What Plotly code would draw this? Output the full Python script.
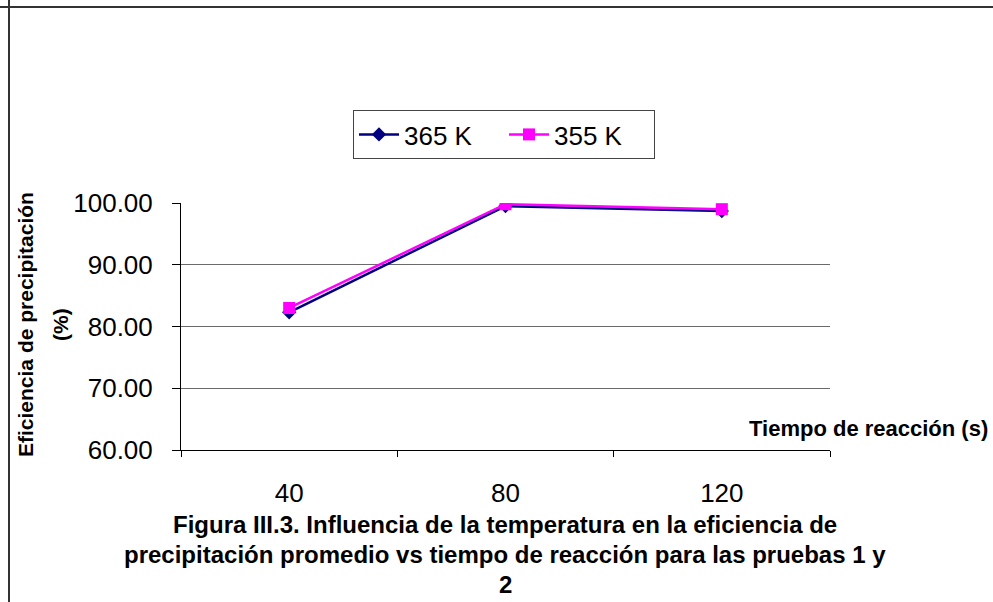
import plotly.graph_objects as go

# Reaction time categories (s) and mean precipitation efficiency (%)
tiempos = ["40", "80", "120"]
eficiencia_365K = [82.3, 99.5, 98.7]
eficiencia_355K = [83.0, 99.8, 99.0]
y_ticks = [60, 70, 80, 90, 100]

W, H = 993, 602
L, R, T, B = 181, 830, 203, 450  # plot area in pixels


def px(x):
    return (x - L) / (R - L)


def py(y):
    return (B - y) / (B - T)


fig = go.Figure()
fig.add_trace(go.Scatter(
    x=tiempos, y=eficiencia_365K, name="365 K", mode="lines+markers",
    line=dict(color="#000080", width=2.5),
    marker=dict(symbol="diamond", size=11, color="#000080"),
))
fig.add_trace(go.Scatter(
    x=tiempos, y=eficiencia_355K, name="355 K", mode="lines+markers",
    line=dict(color="#FF00FF", width=2.5),
    marker=dict(symbol="square", size=12, color="#FF00FF"),
))

font = "Liberation Sans, Arial, sans-serif"

fig.update_layout(
    width=W, height=H,
    margin=dict(l=L, r=W - R, t=T, b=H - B, pad=0),
    paper_bgcolor="white", plot_bgcolor="white",
    font=dict(family=font, color="black", size=26),
    showlegend=True,
    legend=dict(
        orientation="h", x=px(353), y=py(110), xanchor="left", yanchor="top",
        bordercolor="#444", borderwidth=1, bgcolor="white",
        font=dict(size=26, family=font), itemwidth=40,
        entrywidth=95, entrywidthmode="pixels",
        tracegroupgap=0,
    ),
    xaxis=dict(
        type="category", range=[-0.5, 2.5], tickson="boundaries",
        ticks="outside", ticklen=6, tickcolor="black",
        showline=True, linecolor="black", linewidth=1,
        showgrid=False, zeroline=False,
        tickfont=dict(size=26, family=font), ticklabelstandoff=20,
    ),
    yaxis=dict(
        range=[60, 100], tickvals=y_ticks, tickformat=".2f",
        ticks="outside", ticklen=8, tickcolor="black",
        showline=True, linecolor="black", linewidth=1,
        showgrid=True, gridcolor="#6a6a6a", gridwidth=1, zeroline=False,
        tickfont=dict(size=26, family=font), ticklabelstandoff=14,
    ),
)

# Outer frame (top and left edges)
fig.add_shape(type="line", xref="paper", yref="paper",
              x0=px(0), x1=px(W), y0=py(7), y1=py(7),
              line=dict(color="#333", width=2))
fig.add_shape(type="line", xref="paper", yref="paper",
              x0=px(9), x1=px(9), y0=py(0), y1=py(H),
              line=dict(color="#333", width=2))

# Y-axis title, two lines
fig.add_annotation(text="<b>Eficiencia de precipitación</b>", textangle=-90,
                   xref="paper", yref="paper", x=px(25), y=py(325),
                   xanchor="center", yanchor="middle",
                   showarrow=False, font=dict(family=font, size=21, color="black"))
fig.add_annotation(text="<b>(%)</b>", textangle=-90,
                   xref="paper", yref="paper", x=px(60), y=py(325),
                   xanchor="center", yanchor="middle",
                   showarrow=False, font=dict(family=font, size=21, color="black"))

# X-axis title
fig.add_annotation(text="<b>Tiempo de reacción (s)</b>",
                   xref="paper", yref="paper", x=px(990), y=py(428),
                   xanchor="right", yanchor="middle", showarrow=False,
                   font=dict(family=font, size=22, color="black"))

# Figure caption
caption = [
    "Figura III.3. Influencia de la temperatura en la eficiencia de",
    "precipitación promedio vs tiempo de reacción para las pruebas 1 y",
    "2",
]
for i, line in enumerate(caption):
    fig.add_annotation(text=f"<b>{line}</b>", xref="paper", yref="paper",
                       x=px(505), y=py(524 + 30 * i),
                       xanchor="center", yanchor="middle", showarrow=False,
                       font=dict(family=font, size=24, color="black"))

fig.write_html("out.html")
